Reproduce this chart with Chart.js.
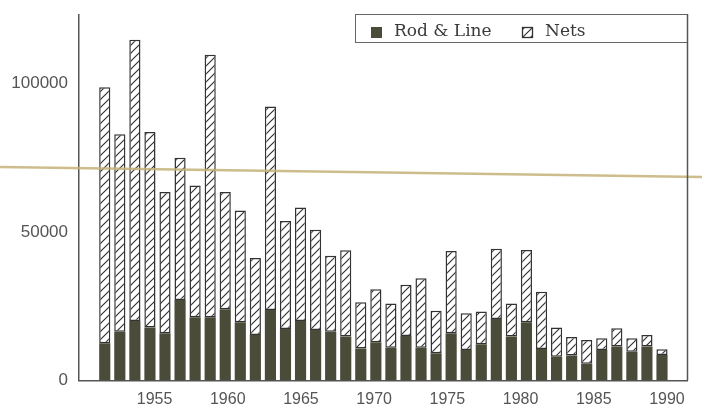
<!DOCTYPE html>
<html>
<head>
<meta charset="utf-8">
<script src="https://cdn.jsdelivr.net/npm/chart.js@4/dist/chart.umd.min.js"></script>
<style>
  html, body { margin: 0; padding: 0; background: #ffffff; }
  #wrap { width: 702px; height: 409px; }
</style>
</head>
<body>
<div id="wrap"><canvas id="catchChart" width="702" height="409"></canvas></div>
<script>
// Annual catch, 1952-1989
const years = [
  1952, 1953, 1954, 1955, 1956, 1957, 1958, 1959, 1960, 1961,
  1962, 1963, 1964, 1965, 1966, 1967, 1968, 1969, 1970, 1971,
  1972, 1973, 1974, 1975, 1976, 1977, 1978, 1979, 1980, 1981,
  1982, 1983, 1984, 1985, 1986, 1987, 1988, 1989
];
const rodAndLine = [
  12500, 16400, 20000, 17800, 15900, 27100, 21300, 21300, 24000, 19600,
  15300, 23700, 17300, 20000, 17000, 16400, 14800, 10800, 12900, 11000,
  15000, 11000, 9200, 15900, 10300, 12200, 20700, 14800, 19600, 10600,
  8000, 8400, 5600, 10300, 11400, 9700, 11400, 8600
];
const nets = [
  86200, 66500, 94700, 65800, 47500, 47900, 44300, 88300, 39400, 37600,
  25900, 68500, 36400, 38200, 33700, 25600, 29000, 15500, 17800, 14900,
  17200, 23400, 14300, 27700, 12300, 11000, 23600, 11100, 24300, 19300,
  9800, 6200, 8000, 3900, 6200, 4500, 3900, 1900
];
const yearTicks = [1955, 1960, 1965, 1970, 1975, 1980, 1985, 1990];
const catchTicks = [0, 50000, 100000];

const ROD_COLOR = '#4a4b39';
const INK = '#333333';
const AXIS = '#555555';

// Diagonal hatch used for the nets portion of each bar
function makeHatch() {
  const size = 8;
  const c = document.createElement('canvas');
  c.width = size; c.height = size;
  const g = c.getContext('2d');
  g.fillStyle = '#ffffff';
  g.fillRect(0, 0, size, size);
  g.strokeStyle = INK;
  g.lineWidth = 1.2;
  g.beginPath();
  g.moveTo(-1, size + 1); g.lineTo(size + 1, -1);
  g.moveTo(-1, 1); g.lineTo(1, -1);
  g.moveTo(size - 1, size + 1); g.lineTo(size + 1, size - 1);
  g.stroke();
  return g.createPattern(c, 'repeat');
}
const hatch = makeHatch();

// Frame lines, the faint crease across the sheet, and the boxed legend
const decorations = {
  id: 'decorations',
  afterDatasetsDraw(chart) {
    const { ctx } = chart;
    ctx.save();
    ctx.strokeStyle = 'rgba(196, 176, 120, 0.85)';
    ctx.lineWidth = 2.5;
    ctx.beginPath();
    ctx.moveTo(0, 167);
    ctx.lineTo(chart.width, 177);
    ctx.stroke();
    ctx.restore();
  },
  afterDraw(chart) {
    const { ctx, chartArea } = chart;
    ctx.save();
    const box = { left: 355, top: 14, right: chartArea.right, bottom: 42 };
    ctx.fillStyle = '#ffffff';
    ctx.fillRect(box.left, box.top, box.right - box.left, box.bottom - box.top);
    ctx.strokeStyle = '#666666';
    ctx.lineWidth = 1;
    ctx.strokeRect(box.left + 0.5, box.top + 0.5, box.right - box.left, box.bottom - box.top);

    // right edge of the plot
    ctx.strokeStyle = AXIS;
    ctx.lineWidth = 1.5;
    ctx.beginPath();
    ctx.moveTo(chartArea.right + 0.5, box.top);
    ctx.lineTo(chartArea.right + 0.5, chartArea.bottom);
    ctx.stroke();

    // legend entries
    const items = [
      { x: 371, ds: chart.data.datasets[0] },
      { x: 522, ds: chart.data.datasets[1] }
    ];
    ctx.font = '17px "DejaVu Serif", "Liberation Serif", serif';
    ctx.textBaseline = 'middle';
    ctx.textAlign = 'left';
    items.forEach(it => {
      const iy = 27, s = 11;
      if (it.ds.backgroundColor === hatch) {
        ctx.fillStyle = hatch;
        ctx.fillRect(it.x, iy, s, s);
        ctx.strokeStyle = INK;
        ctx.lineWidth = 1.3;
        ctx.strokeRect(it.x + 0.5, iy + 0.5, s - 1, s - 1);
      } else {
        ctx.fillStyle = it.ds.backgroundColor;
        ctx.fillRect(it.x, iy, s, s);
      }
      ctx.fillStyle = '#3a3a3a';
      ctx.fillText(it.ds.label, it.x + 23, 32);
    });
    ctx.restore();
  }
};

new Chart(document.getElementById('catchChart'), {
  type: 'bar',
  data: {
    datasets: [
      {
        label: 'Rod & Line',
        data: years.map((y, i) => ({ x: y, y: rodAndLine[i] })),
        backgroundColor: ROD_COLOR,
        borderWidth: 0,
        categoryPercentage: 1,
        barPercentage: 0.74
      },
      {
        label: 'Nets',
        data: years.map((y, i) => ({ x: y, y: nets[i] })),
        backgroundColor: hatch,
        borderColor: INK,
        borderWidth: 1.5,
        borderSkipped: false,
        categoryPercentage: 1,
        barPercentage: 0.74
      }
    ]
  },
  options: {
    responsive: false,
    animation: false,
    devicePixelRatio: 1,
    layout: { padding: { left: 0, right: 15, top: 15, bottom: 0 } },
    plugins: {
      legend: { display: false },
      tooltip: { enabled: false }
    },
    scales: {
      x: {
        type: 'linear',
        stacked: true,
        display: false,
        min: 1950.29,
        max: 1990.66,
        offset: false
      },
      years: {
        type: 'linear',
        axis: 'x',
        position: 'bottom',
        offset: false,
        min: 1949.84,
        max: 1991.37,
        grid: { display: false, drawTicks: false, offset: false },
        border: { display: true, color: AXIS, width: 1.5 },
        afterBuildTicks: s => { s.ticks = yearTicks.map(v => ({ value: v })); },
        afterFit: s => { s.height = 28.5; },
        ticks: {
          color: AXIS,
          padding: 9,
          maxRotation: 0,
          autoSkip: false,
          font: { family: '"Liberation Sans", Arial, sans-serif', size: 16 },
          callback: v => String(v)
        }
      },
      y: {
        stacked: true,
        min: 0,
        max: 123000,
        grid: { display: false, drawTicks: false },
        border: { display: true, color: AXIS, width: 1.5 },
        afterBuildTicks: s => { s.ticks = catchTicks.map(v => ({ value: v })); },
        afterFit: s => { s.width = 79; s.paddingTop = 0; s.paddingBottom = 0; },
        ticks: {
          color: AXIS,
          padding: 11,
          font: { family: '"Liberation Sans", Arial, sans-serif', size: 17 },
          callback: v => String(v)
        }
      }
    }
  },
  plugins: [decorations]
});
</script>
</body>
</html>
